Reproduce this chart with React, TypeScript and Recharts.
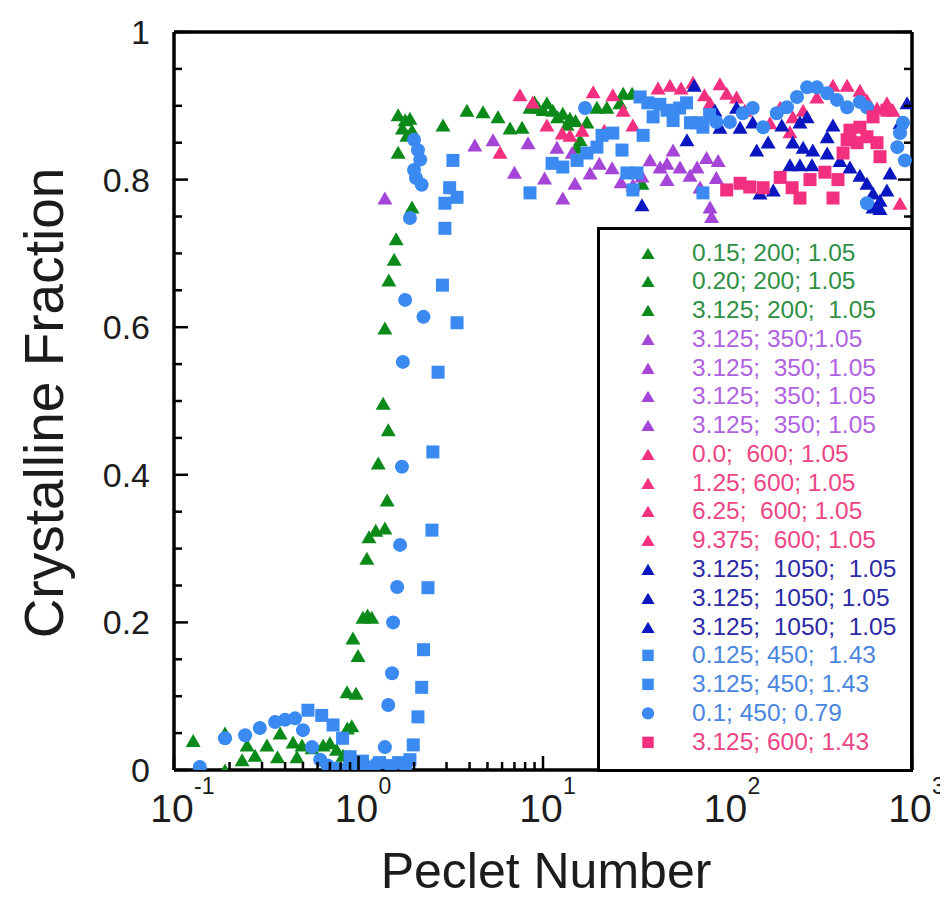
import { ScatterChart, Scatter, XAxis, YAxis } from 'recharts'

type Pt = [number, number]

// axis ticks
const xTicks = [
  0.1, 0.2, 0.3, 0.4, 0.5, 0.6, 0.7, 0.8, 0.9,
  1, 2, 3, 4, 5, 6, 7, 8, 9,
  10, 20, 30, 40, 50, 60, 70, 80, 90,
  100, 200, 300, 400, 500, 600, 700, 800, 900, 1000,
]
const xDecades = [0.1, 1, 10, 100, 1000]
const xExponents = ['-1', '0', '1', '2', '3']
const yTicks = [
  0, 0.05, 0.1, 0.15, 0.2, 0.25, 0.3, 0.35, 0.4, 0.45, 0.5,
  0.55, 0.6, 0.65, 0.7, 0.75, 0.8, 0.85, 0.9, 0.95, 1,
]
const yMajor = [0, 0.2, 0.4, 0.6, 0.8, 1]
const yLabels = ['0', '0.2', '0.4', '0.6', '0.8', '1']

// series data: [Peclet number, crystalline fraction]
const g015: Pt[] = [
  [0.127, 0.04], [0.189, 0.05], [0.189, 0.0], [0.234, 0.014], [0.249, 0.034], [0.275, 0.02],
  [0.319, 0.034], [0.376, 0.05], [0.364, 0.018], [0.442, 0.038], [0.464, 0.018], [0.494, 0.034],
  [0.56, 0.03], [0.643, 0.034], [0.7, 0.037], [0.76, 0.028], [0.824, 0.02], [0.88, 0.012],
]
const g020: Pt[] = [
  [0.87, 0.057], [0.92, 0.06], [0.867, 0.106], [0.97, 0.104], [0.994, 0.155], [0.933, 0.179],
  [1.057, 0.207], [1.12, 0.21], [1.18, 0.207], [1.11, 0.287], [1.14, 0.316], [1.24, 0.325],
  [1.39, 0.328], [1.43, 0.366], [1.28, 0.416], [1.45, 0.461], [1.36, 0.497], [1.39, 0.599],
  [1.46, 0.664], [1.56, 0.692], [1.6, 0.72], [1.95, 0.763], [1.64, 0.837], [1.83, 0.86],
  [1.95, 0.867], [1.73, 0.87], [1.79, 0.881], [1.9, 0.883], [1.64, 0.888],
]
const g3125: Pt[] = [
  [2.87, 0.874], [3.87, 0.894], [4.73, 0.892], [5.7, 0.885], [6.63, 0.87], [7.7, 0.871],
  [8.5, 0.898], [9.0, 0.905], [9.4, 0.898], [10.0, 0.895], [10.5, 0.904], [11.3, 0.894],
  [12.0, 0.885], [12.8, 0.89], [13.5, 0.875], [14.0, 0.883], [15.0, 0.88], [15.3, 0.844],
  [15.9, 0.854], [17.3, 0.878], [19.6, 0.898], [22.2, 0.898], [26.1, 0.904], [27.2, 0.917],
  [30.4, 0.917], [34.4, 0.795],
]
const p350a: Pt[] = [
  [1.39, 0.775], [4.27, 0.847], [5.36, 0.854], [7.0, 0.81], [8.3, 0.85], [10.2, 0.802], [11.9, 0.844],
]
const p350b: Pt[] = [
  [12.8, 0.775], [14.4, 0.837], [14.9, 0.795], [18.0, 0.809], [20.2, 0.822], [23.7, 0.816], [26.5, 0.797],
]
const p350c: Pt[] = [
  [30.7, 0.793], [34.4, 0.805], [38.0, 0.827], [43.1, 0.817], [47, 0.8], [47, 0.822], [50.7, 0.84], [55.3, 0.817],
]
const p350d: Pt[] = [
  [62.6, 0.806], [68.4, 0.817], [71, 0.79], [77, 0.83], [89, 0.826], [87, 0.803], [80.4, 0.763], [82, 0.75],
]
const k00: Pt[] = [
  [5.85, 0.837], [7.5, 0.915], [8.8, 0.905], [10.5, 0.874], [12.7, 0.863], [14.0, 0.86], [16.3, 0.867], [18.7, 0.919],
]
const k125: Pt[] = [
  [21.5, 0.867], [23.9, 0.915], [27.2, 0.894], [30.7, 0.874], [42, 0.924], [48.8, 0.928], [56, 0.924], [65, 0.932],
]
const k625: Pt[] = [
  [75, 0.915], [80.4, 0.904], [91, 0.93], [99, 0.917], [112, 0.912], [124, 0.894], [170, 0.877], [193, 0.898], [218, 0.865],
]
const k9375: Pt[] = [
  [226, 0.885], [257, 0.894], [305, 0.912], [373, 0.928], [445, 0.928], [522, 0.921], [570, 0.908],
  [646, 0.897], [731, 0.904], [789, 0.894], [861, 0.768],
]
const n1050a: Pt[] = [
  [34.4, 0.766], [60.3, 0.854], [66, 0.928], [85.5, 0.894], [91, 0.871], [112, 0.898], [117, 0.871],
  [137, 0.878], [144, 0.84], [150, 0.782],
]
const n1050b: Pt[] = [
  [166, 0.851], [177, 0.786], [197, 0.874], [218, 0.82], [226, 0.851], [247, 0.878], [247, 0.82],
  [257, 0.844], [270, 0.885], [287, 0.82], [290, 0.84],
]
const n1050c: Pt[] = [
  [347, 0.858], [347, 0.836], [373, 0.874], [407, 0.826], [461, 0.817], [522, 0.806], [570, 0.795],
  [615, 0.782], [615, 0.763], [671, 0.772], [671, 0.761], [731, 0.786], [760, 0.809], [861, 0.877], [940, 0.904],
]
const sq0125: Pt[] = [
  [0.532, 0.081], [0.632, 0.074], [0.728, 0.061], [0.82, 0.043], [0.9, 0.018], [0.95, 0.008],
  [1.05, 0.012], [1.15, 0.004], [1.3, 0.01], [1.5, 0.006], [1.65, 0.01], [1.8, 0.004], [1.9, 0.014],
  [1.98, 0.034], [2.1, 0.072], [2.2, 0.112], [2.25, 0.163], [2.38, 0.247], [2.5, 0.325], [2.53, 0.431],
  [2.7, 0.539], [3.42, 0.606], [2.85, 0.657], [2.94, 0.734], [2.94, 0.768], [3.42, 0.776], [3.12, 0.789],
  [3.25, 0.826],
]
const sq3125: Pt[] = [
  [8.5, 0.782], [11.2, 0.822], [12.8, 0.817], [15.3, 0.826], [17.3, 0.836], [19.6, 0.844], [20.9, 0.86],
  [23.9, 0.863], [26.8, 0.84], [28.5, 0.809], [32.3, 0.809], [30.7, 0.786], [34.9, 0.86], [33.6, 0.912],
  [37, 0.904], [39.5, 0.885], [43, 0.902], [47, 0.894], [50.7, 0.88], [55, 0.897], [60, 0.904],
  [63, 0.877], [68, 0.877], [73.6, 0.871], [73.6, 0.782], [80, 0.888],
]
const c01: Pt[] = [
  [0.138, 0.004], [0.189, 0.043], [0.243, 0.047], [0.292, 0.057], [0.353, 0.065], [0.4, 0.068],
  [0.453, 0.07], [0.5, 0.054], [0.56, 0.031], [0.62, 0.014], [0.68, 0.006], [0.75, 0.002], [0.82, 0.0],
  [0.9, 0.008], [1.0, 0.004], [1.1, 0.0], [1.25, 0.008], [1.39, 0.031], [1.45, 0.088], [1.52, 0.131],
  [1.54, 0.2], [1.62, 0.248], [1.68, 0.305], [1.72, 0.411], [1.74, 0.553], [2.25, 0.614], [1.79, 0.637],
  [1.9, 0.748], [2.2, 0.793], [2.05, 0.802], [2.0, 0.813], [2.16, 0.827], [2.1, 0.84], [2.0, 0.854],
  [16.9, 0.897], [87, 0.878], [103, 0.878], [121, 0.89], [137, 0.897], [156, 0.871], [185, 0.89],
  [210, 0.898], [238, 0.912], [270, 0.925], [305, 0.925], [347, 0.917], [392, 0.908], [445, 0.898],
  [522, 0.905], [570, 0.898], [570, 0.768], [833, 0.844], [861, 0.863], [893, 0.877], [915, 0.826],
]
const sq600: Pt[] = [
  [99, 0.786], [117, 0.795], [132, 0.79], [156, 0.789], [193, 0.803], [224, 0.789], [247, 0.775],
  [280, 0.8], [337, 0.81], [397, 0.8], [373, 0.775], [423, 0.836], [445, 0.854], [504, 0.85],
  [570, 0.858], [646, 0.85], [671, 0.831], [731, 0.894], [615, 0.885], [522, 0.871], [461, 0.867],
]

const GREEN = '#0b8a1a'
const PURPLE = '#a445d8'
const PINK = '#f2307f'
const NAVY = '#0a16c0'
const SKY = '#3a8af2'

type Shape = 'tri' | 'sq' | 'dot'
const series: { name: string; data: Pt[]; color: string; text: string; shape: Shape }[] = [
  { name: '0.15; 200; 1.05', data: g015, color: GREEN, text: '#2f8f45', shape: 'tri' },
  { name: '0.20; 200; 1.05', data: g020, color: GREEN, text: '#2f8f45', shape: 'tri' },
  { name: '3.125; 200;  1.05', data: g3125, color: GREEN, text: '#2f8f45', shape: 'tri' },
  { name: '3.125; 350;1.05', data: p350a, color: PURPLE, text: '#b062e0', shape: 'tri' },
  { name: '3.125;  350; 1.05', data: p350b, color: PURPLE, text: '#b062e0', shape: 'tri' },
  { name: '3.125;  350; 1.05', data: p350c, color: PURPLE, text: '#b062e0', shape: 'tri' },
  { name: '3.125;  350; 1.05', data: p350d, color: PURPLE, text: '#b062e0', shape: 'tri' },
  { name: '0.0;  600; 1.05', data: k00, color: PINK, text: '#ec4686', shape: 'tri' },
  { name: '1.25; 600; 1.05', data: k125, color: PINK, text: '#ec4686', shape: 'tri' },
  { name: '6.25;  600; 1.05', data: k625, color: PINK, text: '#ec4686', shape: 'tri' },
  { name: '9.375;  600; 1.05', data: k9375, color: PINK, text: '#ec4686', shape: 'tri' },
  { name: '3.125;  1050;  1.05', data: n1050a, color: NAVY, text: '#2a2aa6', shape: 'tri' },
  { name: '3.125;  1050; 1.05', data: n1050b, color: NAVY, text: '#2a2aa6', shape: 'tri' },
  { name: '3.125;  1050;  1.05', data: n1050c, color: NAVY, text: '#2a2aa6', shape: 'tri' },
  { name: '0.125; 450;  1.43', data: sq0125, color: SKY, text: '#4a86e0', shape: 'sq' },
  { name: '3.125; 450; 1.43', data: sq3125, color: SKY, text: '#4a86e0', shape: 'sq' },
  { name: '0.1; 450; 0.79', data: c01, color: SKY, text: '#4a86e0', shape: 'dot' },
  { name: '3.125; 600; 1.43', data: sq600, color: PINK, text: '#ec4686', shape: 'sq' },
]

const FONT = '"Liberation Sans", Arial, sans-serif'
const INK = '#1c1c1c'

function marker(shape: Shape, cx: number, cy: number, color: string, s = 1) {
  if (shape === 'tri') {
    const w = 7.5 * s
    const h = 13 * s
    return <polygon points={`${cx - w},${cy + h / 2} ${cx + w},${cy + h / 2} ${cx},${cy - h / 2}`} fill={color} />
  }
  if (shape === 'sq') {
    const a = 13 * s
    return <rect x={cx - a / 2} y={cy - a / 2} width={a} height={a} fill={color} />
  }
  return <circle cx={cx} cy={cy} r={7 * s} fill={color} />
}

function BottomTick(props: any) {
  const { x, y, payload } = props
  const i = xDecades.indexOf(payload.value)
  return (
    <g>
      <line x1={x} x2={x} y1={y} y2={y - (i >= 0 ? 14 : 8)} stroke="#000" strokeWidth={2.5} />
      {i >= 0 && (
        <g fontFamily={FONT} fill={INK}>
          <text x={x - 2} y={y + 52} textAnchor="middle" fontSize={39}>10</text>
          <text x={x + 20} y={y + 24} fontSize={23}>{xExponents[i]}</text>
        </g>
      )}
    </g>
  )
}

function TopTick(props: any) {
  const { x, y, payload } = props
  const major = xDecades.indexOf(payload.value) >= 0
  return <line x1={x} x2={x} y1={y} y2={y + (major ? 14 : 8)} stroke="#000" strokeWidth={2.5} />
}

function LeftTick(props: any) {
  const { x, y, payload } = props
  const i = yMajor.indexOf(payload.value)
  return (
    <g>
      <line x1={x} x2={x + (i >= 0 ? 14 : 8)} y1={y} y2={y} stroke="#000" strokeWidth={2.5} />
      {i >= 0 && (
        <text x={x - 24} y={y} textAnchor="end" dominantBaseline="central" fontSize={34} fontFamily={FONT} fill={INK}>
          {yLabels[i]}
        </text>
      )}
    </g>
  )
}

function RightTick(props: any) {
  const { x, y, payload } = props
  const major = yMajor.indexOf(payload.value) >= 0
  return <line x1={x} x2={x - (major ? 14 : 8)} y1={y} y2={y} stroke="#000" strokeWidth={2.5} />
}

function LegendBox() {
  const row = 28.76
  return (
    <div
      style={{
        position: 'absolute', left: 589, top: 219, width: 316, height: 545,
        border: '3px solid #000', boxSizing: 'border-box', background: '#fff',
        fontFamily: FONT, fontSize: 24.5,
      }}
    >
      {series.map((s, i) => (
        <div key={i} style={{ position: 'absolute', left: 0, top: 23 + row * i - row / 2, height: row, width: '100%' }}>
          <svg width={30} height={row} style={{ position: 'absolute', left: 33, top: 0 }}>
            {marker(s.shape, 15, row / 2, s.color, 0.88)}
          </svg>
          <span style={{ position: 'absolute', left: 92, top: 0, lineHeight: `${row}px`, color: s.text, whiteSpace: 'pre' }}>
            {s.name}
          </span>
        </div>
      ))}
    </div>
  )
}

const frame = { stroke: '#000', strokeWidth: 3.5 }

export default function App() {
  return (
    <div style={{ position: 'relative', width: 940, height: 883, background: '#fff' }}>
      <ScatterChart width={940} height={883} margin={{ top: 23, right: 35, bottom: 120, left: 165 }}>
        <XAxis
          xAxisId="b" dataKey="x" type="number" scale="log" domain={[0.1, 1000]} allowDataOverflow
          ticks={xTicks} interval={0} tickSize={0} tickMargin={0} height={1}
          stroke="#000" axisLine={frame} tickLine={false} tick={<BottomTick />}
        />
        <XAxis
          xAxisId="t" orientation="top" type="number" scale="log" domain={[0.1, 1000]} allowDataOverflow
          ticks={xTicks} interval={0} tickSize={0} tickMargin={0} height={1}
          stroke="#000" axisLine={frame} tickLine={false} tick={<TopTick />}
        />
        <YAxis
          yAxisId="l" dataKey="y" type="number" domain={[0, 1]} allowDataOverflow
          ticks={yTicks} interval={0} tickSize={0} tickMargin={0} width={1}
          stroke="#000" axisLine={frame} tickLine={false} tick={<LeftTick />}
        />
        <YAxis
          yAxisId="r" orientation="right" type="number" domain={[0, 1]} allowDataOverflow
          ticks={yTicks} interval={0} tickSize={0} tickMargin={0} width={1}
          stroke="#000" axisLine={frame} tickLine={false} tick={<RightTick />}
        />
        {series.map((s, i) => (
          <Scatter
            key={i}
            name={s.name}
            xAxisId="b"
            yAxisId="l"
            data={s.data.map(([x, y]) => ({ x, y }))}
            isAnimationActive={false}
            shape={(p: any) => marker(s.shape, p.cx, p.cy, s.color)}
          />
        ))}
      </ScatterChart>
      <LegendBox />
      <div
        style={{
          position: 'absolute', left: 36, top: 395, transform: 'translate(-50%, -50%) rotate(-90deg)',
          fontFamily: FONT, fontSize: 55, lineHeight: 1, color: INK, whiteSpace: 'nowrap',
        }}
      >
        Crystalline Fraction
      </div>
      <div
        style={{
          position: 'absolute', left: 538, top: 843, height: 40, transform: 'translateX(-50%)',
          fontFamily: FONT, fontSize: 50, lineHeight: '40px', color: INK, whiteSpace: 'nowrap',
        }}
      >
        Peclet Number
      </div>
    </div>
  )
}
